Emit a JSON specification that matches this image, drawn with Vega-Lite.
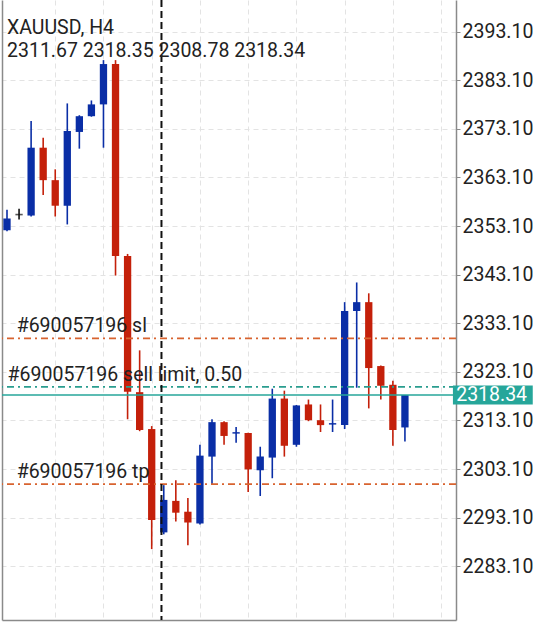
{
  "$schema": "https://vega.github.io/schema/vega-lite/v6.json",
  "width": 454,
  "height": 620,
  "autosize": {"type": "none"},
  "padding": {"left": 2, "top": 0, "right": 100, "bottom": 5},
  "background": "white",
  "config": {"view": {"stroke": null}, "font": "Roboto"},
  "title": {
    "text": ["XAUUSD, H4", "2311.67 2318.35 2308.78 2318.34"],
    "anchor": "start", "frame": "group", "orient": "top",
    "font": "Roboto", "fontSize": 19.5, "fontWeight": "normal", "color": "#222222",
    "lineHeight": 23, "baseline": "top", "offset": -62, "dx": 5
  },
  "datasets": {
    "candles": [
      {"i": 0, "open": 2352.23, "high": 2356.48, "low": 2352.03, "close": 2354.66},
      {"i": 1, "open": 2355.47, "high": 2356.69, "low": 2354.46, "close": 2355.47},
      {"i": 2, "open": 2355.27, "high": 2374.70, "low": 2355.07, "close": 2369.23},
      {"i": 3, "open": 2369.23, "high": 2371.26, "low": 2359.52, "close": 2362.55},
      {"i": 4, "open": 2362.55, "high": 2364.78, "low": 2355.07, "close": 2357.29},
      {"i": 5, "open": 2357.29, "high": 2378.34, "low": 2353.44, "close": 2372.67},
      {"i": 6, "open": 2372.47, "high": 2375.91, "low": 2369.03, "close": 2375.71},
      {"i": 7, "open": 2375.71, "high": 2378.95, "low": 2375.60, "close": 2378.14},
      {"i": 8, "open": 2378.14, "high": 2387.25, "low": 2369.23, "close": 2386.44},
      {"i": 9, "open": 2386.44, "high": 2387.25, "low": 2342.92, "close": 2346.97},
      {"i": 10, "open": 2346.97, "high": 2347.37, "low": 2313.36, "close": 2319.03},
      {"i": 11, "open": 2318.93, "high": 2327.53, "low": 2310.90, "close": 2311.14},
      {"i": 12, "open": 2311.34, "high": 2311.95, "low": 2286.64, "close": 2292.63},
      {"i": 13, "open": 2290.08, "high": 2299.80, "low": 2289.68, "close": 2296.76},
      {"i": 14, "open": 2296.56, "high": 2300.81, "low": 2292.31, "close": 2294.13},
      {"i": 15, "open": 2294.33, "high": 2297.17, "low": 2287.45, "close": 2292.11},
      {"i": 16, "open": 2291.91, "high": 2308.10, "low": 2291.71, "close": 2305.87},
      {"i": 17, "open": 2305.67, "high": 2313.36, "low": 2300.00, "close": 2312.76},
      {"i": 18, "open": 2312.76, "high": 2312.96, "low": 2308.10, "close": 2309.92},
      {"i": 19, "open": 2310.40, "high": 2311.75, "low": 2308.50, "close": 2310.70},
      {"i": 20, "open": 2310.53, "high": 2310.60, "low": 2298.38, "close": 2303.04},
      {"i": 21, "open": 2302.84, "high": 2307.70, "low": 2297.57, "close": 2305.67},
      {"i": 22, "open": 2305.47, "high": 2319.64, "low": 2301.22, "close": 2317.61},
      {"i": 23, "open": 2317.61, "high": 2319.24, "low": 2305.67, "close": 2307.90},
      {"i": 24, "open": 2308.10, "high": 2316.30, "low": 2307.70, "close": 2316.20},
      {"i": 25, "open": 2316.40, "high": 2317.41, "low": 2312.96, "close": 2313.16},
      {"i": 26, "open": 2313.16, "high": 2316.40, "low": 2310.73, "close": 2312.15},
      {"i": 27, "open": 2312.26, "high": 2317.41, "low": 2310.73, "close": 2312.56},
      {"i": 28, "open": 2312.15, "high": 2337.45, "low": 2311.34, "close": 2335.63},
      {"i": 29, "open": 2335.63, "high": 2341.50, "low": 2319.84, "close": 2337.45},
      {"i": 30, "open": 2337.45, "high": 2339.27, "low": 2315.59, "close": 2323.89},
      {"i": 31, "open": 2324.30, "high": 2324.40, "low": 2317.41, "close": 2320.25},
      {"i": 32, "open": 2320.45, "high": 2321.26, "low": 2307.90, "close": 2311.14},
      {"i": 33, "open": 2311.67, "high": 2318.35, "low": 2308.78, "close": 2318.34}
    ],
    "orders": [
      {"label": "#690057196 sl", "price": 2330.0, "type": "sl", "pos": 0.8},
      {"label": "#690057196 sell limit, 0.50", "price": 2320.0, "type": "sell limit", "pos": 0.05},
      {"label": "#690057196 tp", "price": 2300.0, "type": "tp", "pos": 0.8}
    ],
    "last": [{"price": 2318.34, "text": "2318.34"}],
    "separator": [{"i": 12.81}]
  },
  "resolve": {"axis": {"y": "independent"}},
  "layer": [
    {
      "data": {"name": "candles"},
      "mark": {"type": "rule", "strokeWidth": 1.6, "clip": true},
      "encoding": {
        "x": {"field": "i", "type": "quantitative",
              "scale": {"domain": [0, 36.82], "nice": false, "zero": false},
              "axis": {"title": null, "values": [4, 8, 12, 16, 20, 24, 28, 32, 36], "labels": false, "ticks": false,
                       "domain": true, "domainColor": "#8a8a8a", "domainWidth": 1.5,
                       "grid": true, "gridColor": "#e3e3e3", "gridDash": [5, 4], "gridWidth": 1}},
        "y": {"field": "low", "type": "quantitative",
              "scale": {"domain": [2273.08, 2398.59], "nice": false, "zero": false},
              "axis": {"orient": "right", "title": null,
                       "values": [2283.1, 2293.1, 2303.1, 2313.1, 2323.1, 2333.1, 2343.1, 2353.1, 2363.1, 2373.1, 2383.1, 2393.1],
                       "format": ".2f", "labelFont": "Roboto", "labelFontSize": 19.5, "labelColor": "#222222",
                       "labelPadding": 2, "tickSize": 4, "tickColor": "#8a8a8a", "tickWidth": 1,
                       "domainColor": "#8a8a8a", "domainWidth": 1.5,
                       "grid": true, "gridColor": "#e3e3e3", "gridDash": [5, 4], "gridWidth": 1}},
        "y2": {"field": "high"},
        "color": {"condition": [
                    {"test": "datum.close > datum.open", "value": "#0a2ea6"},
                    {"test": "datum.close < datum.open", "value": "#c4200a"}],
                  "value": "#111111"}
      }
    },
    {
      "data": {"name": "candles"},
      "mark": {"type": "bar", "size": 7.3, "clip": true},
      "encoding": {
        "x": {"field": "i", "type": "quantitative"},
        "y": {"field": "open", "type": "quantitative",
              "axis": {"orient": "left", "title": null, "labels": false, "ticks": false, "grid": false,
                       "domain": true, "domainColor": "#8a8a8a", "domainWidth": 1.5}},
        "y2": {"field": "close"},
        "color": {"condition": [
                    {"test": "datum.close > datum.open", "value": "#0a2ea6"},
                    {"test": "datum.close < datum.open", "value": "#c4200a"}],
                  "value": "#111111"}
      }
    },
    {
      "data": {"name": "candles"},
      "transform": [{"filter": "datum.open == datum.close"}],
      "mark": {"type": "tick", "orient": "horizontal", "size": 7.3, "thickness": 1.6, "color": "#111111", "clip": true},
      "encoding": {
        "x": {"field": "i", "type": "quantitative"},
        "y": {"field": "open", "type": "quantitative", "axis": null}
      }
    },
    {
      "data": {"name": "orders"},
      "mark": {"type": "rule", "strokeWidth": 1.8, "strokeDash": [7, 4, 2, 4]},
      "encoding": {
        "y": {"field": "price", "type": "quantitative", "axis": null},
        "color": {"field": "type", "type": "nominal", "legend": null,
                  "scale": {"domain": ["sl", "sell limit", "tp"], "range": ["#d8632f", "#2a9d8f", "#d8632f"]}}
      }
    },
    {
      "data": {"name": "last"},
      "mark": {"type": "rule", "strokeWidth": 1.6, "color": "#26a69a"},
      "encoding": {
        "y": {"field": "price", "type": "quantitative", "axis": null}
      }
    },
    {
      "data": {"name": "separator"},
      "mark": {"type": "rule", "strokeWidth": 2, "color": "#111111", "strokeDash": [7, 4]},
      "encoding": {
        "x": {"field": "i", "type": "quantitative"}
      }
    },
    {
      "data": {"name": "orders"},
      "mark": {"type": "text", "align": "left", "baseline": "alphabetic", "dy": -6,
               "font": "Roboto", "fontSize": 19.5, "color": "#222222"},
      "encoding": {
        "x": {"field": "pos", "type": "quantitative"},
        "y": {"field": "price", "type": "quantitative", "axis": null},
        "text": {"field": "label"}
      }
    },
    {
      "data": {"name": "last"},
      "mark": {"type": "bar", "size": 19, "color": "#26a69a", "clip": false},
      "encoding": {
        "x": {"datum": 36.98},
        "x2": {"datum": 43.6},
        "y": {"field": "price", "type": "quantitative", "axis": null}
      }
    },
    {
      "data": {"name": "last"},
      "mark": {"type": "text", "align": "left", "baseline": "middle", "font": "Roboto", "fontSize": 19.5, "color": "white", "clip": false},
      "encoding": {
        "x": {"datum": 37.25},
        "y": {"field": "price", "type": "quantitative", "axis": null},
        "text": {"field": "text"}
      }
    }
  ]
}
